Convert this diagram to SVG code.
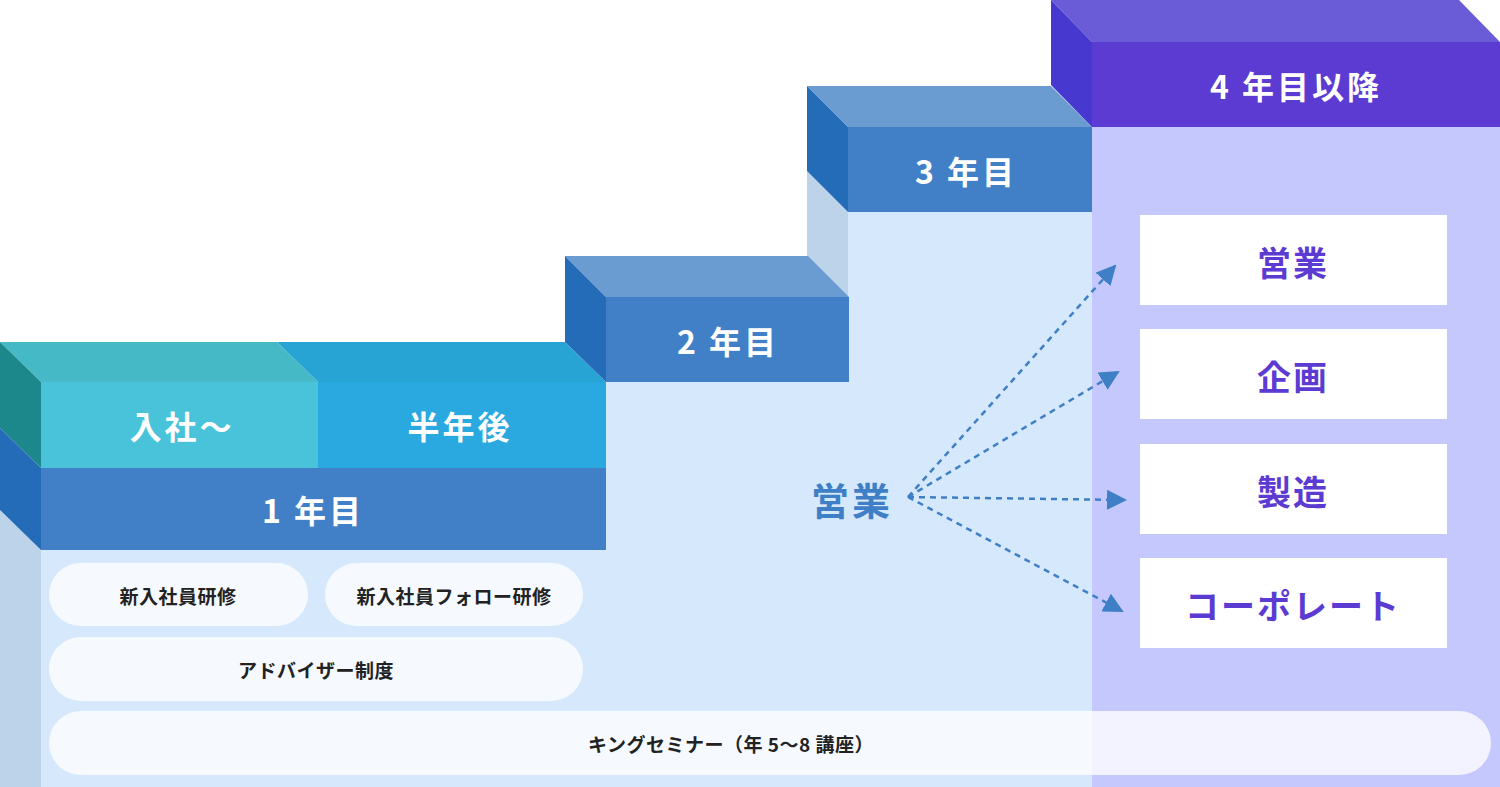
<svg xmlns="http://www.w3.org/2000/svg" width="1500" height="787" viewBox="0 0 1500 787">
<defs>
<style>
text{font-family:"Noto Sans CJK JP","Noto Sans",sans-serif;font-weight:bold;text-anchor:middle;dominant-baseline:central}
.w{fill:#fff;font-size:32px;letter-spacing:3px}
.p{fill:#5C3BD3;font-size:34px;letter-spacing:2px}
.pill{fill:#fff;fill-opacity:0.78}
.pt{fill:#222;font-size:19px;letter-spacing:0.5px}
.box{fill:#fff}
.c{stroke:#3F7FC6;stroke-width:2.5;stroke-dasharray:6 5;fill:none}
</style>
<marker id="ah" viewBox="0 0 10 10" refX="9" refY="5" markerWidth="8" markerHeight="8" orient="auto" markerUnits="strokeWidth"><path d="M0,0L10,5L0,10z" fill="#3F7FC6"/></marker>
</defs>
<rect width="1500" height="787" fill="#fff"/>
<g id="background">
<rect x="41" y="550" width="1051" height="237" fill="#D6E8FC"/>
<rect x="606" y="382" width="243" height="170" fill="#D6E8FC"/>
<rect x="848" y="212" width="244" height="340" fill="#D6E8FC"/>
<polygon points="0,510 41,550 41,787 0,787" fill="#BDD3EA"/>
<polygon points="807,171 848,212 848,297 807,256" fill="#BDD3EA"/>
<rect x="1092" y="127" width="408" height="660" fill="#C5C8FD"/>
</g>
<g id="year1">
<polygon points="0,342 277,342 318,382 41,382" fill="#46B9C6"/>
<polygon points="277,342 565,342 606,382 318,382" fill="#27A4D4"/>
<polygon points="0,342 41,382 41,468 0,428" fill="#1C888C"/>
<polygon points="0,428 41,468 41,550 0,510" fill="#256CB8"/>
<rect x="41" y="382" width="277" height="86" fill="#48C3D9"/>
<rect x="318" y="382" width="288" height="86" fill="#2AA9E0"/>
<rect x="41" y="468" width="565" height="82" fill="#4180C6"/>
<text class="w" x="182" y="425">入社〜</text>
<text class="w" x="460" y="425">半年後</text>
<text class="w" x="313" y="509">1 年目</text>
</g>
<g id="year2">
<polygon points="565,256 808,256 849,297 606,297" fill="#6A9BD1"/>
<polygon points="565,256 606,297 606,382 565,342" fill="#256CB8"/>
<rect x="606" y="297" width="243" height="85" fill="#4180C6"/>
<text class="w" x="728" y="340">2 年目</text>
</g>
<g id="year3">
<polygon points="807,86 1051,86 1092,127 848,127" fill="#6A9BD1"/>
<polygon points="807,86 848,127 848,212 807,171" fill="#256CB8"/>
<rect x="848" y="127" width="244" height="85" fill="#4180C6"/>
<text class="w" x="966" y="170">3 年目</text>
</g>
<g id="year4">
<polygon points="1051,0 1459,0 1500,42 1092,42" fill="#6A5BD6"/>
<polygon points="1051,0 1092,42 1092,127 1051,85" fill="#4739D0"/>
<rect x="1092" y="42" width="408" height="85" fill="#5C3BD3"/>
<text class="w" x="1296" y="85">4 年目以降</text>
</g>
<g id="careers">
<rect class="box" x="1140" y="215" width="307" height="90"/><text class="p" x="1293" y="261">営業</text>
<rect class="box" x="1140" y="329" width="307" height="90"/><text class="p" x="1293" y="375">企画</text>
<rect class="box" x="1140" y="444" width="307" height="90"/><text class="p" x="1293" y="490">製造</text>
<rect class="box" x="1140" y="558" width="307" height="90"/><text class="p" x="1293" y="604">コーポレート</text>
</g>
<g id="sales"><text x="852" y="498" style="fill:#3F7FC6;font-size:38px;letter-spacing:3px">営業</text></g>
<g id="connectors">
<line class="c" x1="908" y1="497" x2="1115" y2="266" marker-end="url(#ah)"/>
<line class="c" x1="908" y1="497" x2="1118" y2="372" marker-end="url(#ah)"/>
<line class="c" x1="908" y1="497" x2="1125" y2="500" marker-end="url(#ah)"/>
<line class="c" x1="908" y1="497" x2="1122" y2="611" marker-end="url(#ah)"/>
</g>
<g id="programs">
<rect class="pill" x="49" y="563" width="259" height="63" rx="31.5"/><text class="pt" x="178" y="595">新入社員研修</text>
<rect class="pill" x="325" y="563" width="258" height="63" rx="31.5"/><text class="pt" x="454" y="595">新入社員フォロー研修</text>
<rect class="pill" x="49" y="637" width="534" height="64" rx="32"/><text class="pt" x="316" y="669">アドバイザー制度</text>
<rect class="pill" x="49" y="711" width="1442" height="64" rx="32"/><text class="pt" x="731" y="743">キングセミナー（年 5〜8 講座）</text>
</g>
</svg>
